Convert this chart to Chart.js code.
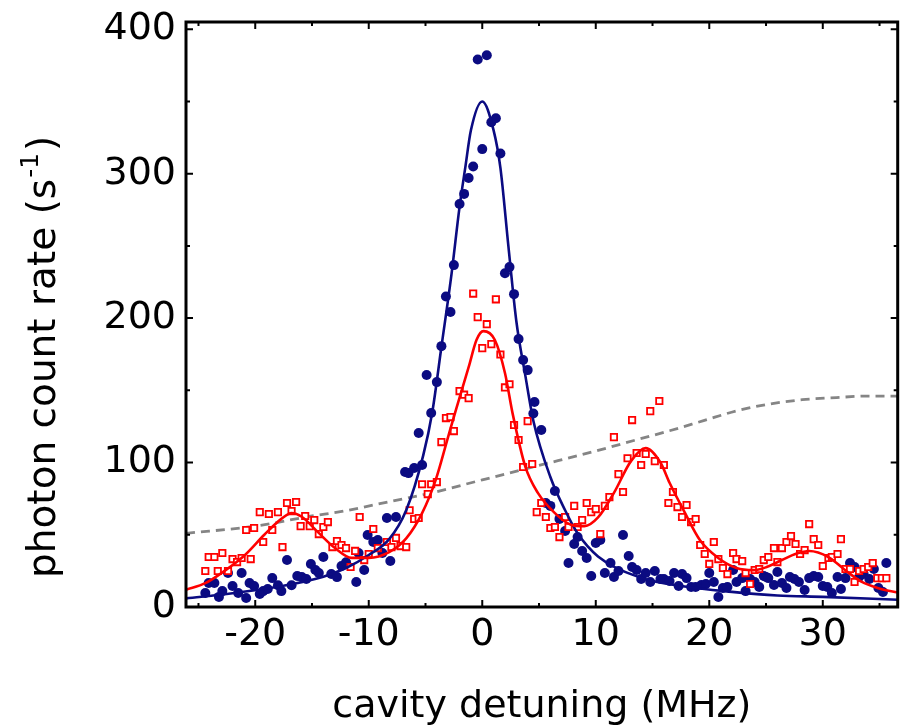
<!DOCTYPE html>
<html>
<head>
<meta charset="utf-8">
<script src="https://cdn.jsdelivr.net/npm/chart.js@4.4.1/dist/chart.umd.min.js"></script>
<style>
  html, body { margin: 0; padding: 0; background: #fff; overflow: hidden; }
  canvas { display: block; }
</style>
</head>
<body>
<canvas id="myChart" width="904" height="728"></canvas>
<script>
// blue dots: empty cavity transmission
const blueDetuning = [-24.4, -24.1, -23.6, -23.2, -22.9, -22.4, -22.0, -21.5, -21.2, -20.8, -20.5, -20.1, -19.6, -19.3, -18.9, -18.5, -18.0, -17.7, -17.2, -16.8, -16.3, -15.9, -15.5, -15.1, -14.7, -14.4, -14.0, -13.3, -12.8, -12.4, -12.0, -11.1, -10.9, -10.4, -10.1, -9.6, -9.2, -8.8, -8.4, -8.1, -7.6, -6.8, -6.5, -6.0, -5.3, -5.6, -4.9, -4.5, -4.0, -3.6, -3.2, -2.8, -2.5, -2.0, -1.6, -1.2, -0.8, -0.4, 0.0, 0.4, 0.8, 1.2, 1.6, 2.0, 2.4, 2.8, 3.2, 3.6, 4.0, 4.5, 4.6, 5.2, 5.6, 6.0, 6.4, 6.8, 7.3, 7.6, 8.1, 8.4, 8.8, 9.2, 9.6, 10.0, 10.4, 10.8, 11.3, 11.6, 12.0, 12.4, 12.9, 13.2, 13.6, 14.0, 14.4, 14.8, 15.2, 15.7, 16.0, 16.5, 16.9, 17.3, 17.6, 18.0, 18.4, 18.8, 19.3, 19.7, 20.0, 20.4, 20.8, 21.2, 21.6, 22.1, 22.4, 22.9, 23.2, 23.6, 24.0, 24.4, 24.8, 25.0, 25.2, 25.7, 26.0, 26.4, 26.8, 27.1, 27.5, 27.9, 28.4, 28.8, 29.2, 29.6, 30.0, 30.4, 30.8, 31.3, 31.6, 32.0, 32.4, 32.8, 33.2, 33.6, 34.1, 34.5, 34.9, 35.3, 35.6];
const blueRate = [9.7, 16.6, 16.6, 7, 11, 23.5, 14.5, 9.7, 23.5, 6.2, 16.6, 14.5, 9, 11, 12.5, 20, 15, 11, 32.5, 15, 21.5, 20.7, 19.4, 29.8, 25.6, 23.5, 34.6, 22.8, 20.7, 28.4, 31, 17.3, 37.4, 25.6, 49.8, 45, 46.4, 37.4, 61.6, 31.8, 62.3, 93.4, 92.7, 96.2, 98.3, 120.4, 160.6, 134.3, 155.7, 180.6, 215, 204.2, 236.7, 279, 286, 297, 305, 379, 317, 382, 335.6, 338.4, 314, 231, 235.3, 216.6, 185.5, 171, 164, 134, 141.9, 122.5, 72, 70, 80.3, 61, 52.6, 30.4, 43.6, 48.4, 38.8, 33.9, 21.5, 44.3, 46.4, 23.5, 30.4, 20.8, 24.9, 49.8, 35.3, 27.7, 25.6, 19.4, 23.5, 17.3, 24.9, 19.4, 19.4, 18, 23.5, 14.5, 22.8, 20, 13.8, 13.8, 15.2, 15.9, 23.5, 17.3, 6.9, 13.1, 13.8, 25.6, 17.3, 20, 11, 19.4, 17.3, 13.8, 21.5, 20.8, 20, 15.2, 24.2, 16.6, 13.1, 20.8, 19.4, 17.3, 11.8, 20, 21.5, 20.8, 14.5, 13.8, 9.7, 20.8, 12.5, 20, 30.4, 27.7, 20.8, 22.8, 19.4, 26.3, 13.1, 10.4, 30.4];

// red open squares: cavity with atoms
const redDetuning = [-24.4, -24.1, -23.6, -23.3, -22.9, -22.4, -22.0, -21.6, -21.2, -20.8, -20.4, -20.1, -19.6, -19.3, -18.8, -18.5, -18.0, -17.6, -17.2, -16.8, -16.4, -16.0, -15.6, -15.2, -14.8, -14.4, -14.0, -13.6, -13.2, -12.8, -12.4, -12.0, -11.6, -11.2, -10.8, -10.4, -10.0, -9.6, -9.2, -8.4, -8.0, -7.6, -7.2, -6.7, -6.4, -6.0, -5.6, -5.3, -4.8, -4.5, -4.0, -3.6, -3.2, -2.8, -2.5, -2.0, -1.6, -1.2, -0.8, -0.4, 0.0, 0.4, 0.8, 1.2, 1.6, 2.0, 2.4, 2.8, 3.2, 3.6, 4.0, 4.4, 4.8, 5.2, 5.6, 6.0, 6.4, 6.8, 7.3, 7.6, 8.1, 8.4, 8.8, 9.2, 9.6, 10.0, 10.4, 10.8, 11.2, 11.6, 12.0, 12.4, 12.8, 13.2, 13.6, 14.0, 14.4, 14.8, 15.2, 15.6, 16.0, 16.4, 16.8, 17.2, 17.6, 18.0, 18.4, 18.8, 19.2, 19.6, 20.0, 20.4, 20.8, 21.2, 21.6, 22.1, 22.4, 22.9, 23.2, 23.6, 24.0, 24.4, 24.8, 25.2, 25.7, 26.0, 26.4, 26.8, 27.2, 27.6, 28.0, 28.4, 28.8, 29.2, 29.6, 30.0, 30.5, 30.8, 31.3, 31.6, 32.0, 32.4, 32.8, 33.2, 33.6, 34.0, 34.4, 34.8, 35.2, 35.6];
const redRate = [24.9, 34.6, 34.6, 24.9, 37.4, 24.9, 33.2, 31.1, 33.9, 53.3, 33.2, 54.7, 65.7, 45, 64.4, 53.3, 65.7, 41.5, 72, 66.4, 72.7, 56, 63, 56, 60.2, 50.5, 55.4, 58.8, 41.5, 45.7, 42.9, 40.8, 27.7, 38.8, 62.3, 32.5, 36.7, 54, 40.8, 45, 41.5, 47.8, 42.2, 41.5, 67, 60.9, 61.6, 85, 78.2, 85, 86.5, 114.2, 130.8, 131.5, 121.8, 149.5, 147, 144.6, 217, 200.7, 179.2, 195.8, 182, 213, 174.8, 152, 154.2, 126, 115.6, 96.9, 128.7, 99, 65.7, 72, 62.3, 54.7, 55.4, 48.4, 62.3, 55.4, 70, 55.4, 60.2, 72, 65.7, 67.8, 50.5, 70, 76.1, 117.6, 92, 79.6, 103, 129.4, 106.6, 98.3, 105.9, 135.6, 101, 142.6, 98.3, 72, 79.6, 69.2, 62.3, 70.6, 58.8, 60.9, 42.9, 36.7, 29.8, 45, 33.2, 27, 22.8, 37.4, 33.2, 31.8, 23.5, 15.9, 25.6, 26.3, 32.5, 34.6, 40.8, 31.1, 40.8, 45, 49.1, 43.6, 36.7, 39.4, 57.4, 47, 42.9, 28.4, 33.9, 34.6, 36.7, 47, 26.3, 26.3, 17.3, 24.9, 26.3, 27.7, 30.4, 20, 20, 20];

// fitted curves at selected detunings
const blueFitX = [-26.1, -22, -18, -14, -12, -10, -8.2, -6.7, -5.2, -4.4, -3.6, -2.7, -2.0, -1.5, -1.0, 0, 1.0, 1.6, 2.3, 3.0, 3.8, 4.5, 6.0, 7.3, 8.4, 10.2, 13.7, 18, 22, 26, 30, 36.6];
const blueFitY = [6, 9.5, 14, 21, 27, 36, 47, 67, 105, 135, 180, 231, 277, 304, 330, 350, 330, 304, 250, 198, 160, 129, 90, 67, 51, 35, 21, 14, 10.5, 8, 7, 5];

const redFitX = [-26.1, -24.4, -22.7, -20.9, -19.2, -17.7, -16.8, -15.9, -14.5, -13, -11.5, -10, -8.2, -6.7, -5.3, -4.1, -3.0, -2.3, -1.2, -0.5, 0.1, 1.1, 2.0, 2.7, 3.8, 4.9, 6.4, 7.8, 9.0, 10.2, 11.6, 13.1, 14.4, 15.7, 16.5, 17.8, 19.2, 20.7, 22.4, 23.9, 25.0, 26.4, 27.7, 28.8, 30.5, 31.9, 33.4, 34.9, 36.6];
const redFitY = [12, 16.5, 25, 36, 50, 61, 65, 62.5, 52, 41, 34, 34, 38, 47.5, 65, 88, 118, 137, 166, 185, 191, 185, 162, 133, 97, 79, 65, 57, 56, 62, 79, 101, 110, 100, 86, 66, 46, 34.5, 27, 25.5, 27.5, 32.5, 37, 38.8, 34.6, 26, 17.5, 13, 10];

const greyX = [-26.1, -20, -15, -12.5, -7.5, -5, 0, 5, 10, 13.7, 16.5, 19.5, 22.5, 25.3, 28.2, 31.2, 33.8, 36.6];
const greyY = [51, 56, 63, 66, 74, 78, 88, 98, 108, 116, 122, 129, 136, 140.5, 143.5, 145, 146, 146];

// axis ticks
const xMajorTicks = [-20, -10, 0, 10, 20, 30];
const xMinorTicks = [-25, -15, -5, 5, 15, 25, 35];
const yMajorTicks = [0, 100, 200, 300, 400];
const yMinorTicks = [50, 150, 250, 350];

const pairs = (xs, ys) => xs.map((x, i) => ({ x: x, y: ys[i] }));

const FONT = "'DejaVu Sans', 'Liberation Sans', Arial, sans-serif";

// box frame with inward tick marks, plus the y title with a superscript
const framePlugin = {
    id: 'frame',
    afterDraw(chart) {
        const ctx = chart.ctx;
        const a = chart.chartArea;
        const xs = chart.scales.x, ys = chart.scales.y;
        ctx.save();
        ctx.strokeStyle = '#000';
        ctx.lineWidth = 2;
        ctx.beginPath();
        const tick = (vals, len) => {
            vals.forEach(v => {
                const px = xs.getPixelForValue(v);
                ctx.moveTo(px, a.bottom); ctx.lineTo(px, a.bottom - len);
                ctx.moveTo(px, a.top); ctx.lineTo(px, a.top + len);
            });
        };
        const ytick = (vals, len) => {
            vals.forEach(v => {
                const py = ys.getPixelForValue(v);
                ctx.moveTo(a.left, py); ctx.lineTo(a.left + len, py);
                ctx.moveTo(a.right, py); ctx.lineTo(a.right - len, py);
            });
        };
        tick(xMajorTicks, 7);
        tick(xMinorTicks, 4);
        ytick(yMajorTicks, 7);
        ytick(yMinorTicks, 4);
        ctx.stroke();
        ctx.lineWidth = 3;
        ctx.strokeRect(a.left, a.top, a.right - a.left, a.bottom - a.top);

        // y title
        ctx.fillStyle = '#000';
        ctx.translate(55, 578);
        ctx.rotate(-Math.PI / 2);
        ctx.textAlign = 'left';
        ctx.textBaseline = 'alphabetic';
        ctx.font = '39px ' + FONT;
        const main = 'photon count rate (s';
        ctx.fillText(main, 0, 0);
        let w = ctx.measureText(main).width;
        ctx.font = '25px ' + FONT;
        ctx.fillText('-1', w + 1, -17);
        w += ctx.measureText('-1').width + 3;
        ctx.font = '39px ' + FONT;
        ctx.fillText(')', w, 0);
        ctx.restore();
    }
};

const noEdgePadding = (scale) => {
    scale.paddingTop = 0;
    scale.paddingBottom = 0;
    scale.paddingLeft = 0;
    scale.paddingRight = 0;
};

new Chart(document.getElementById('myChart'), {
    type: 'scatter',
    data: {
        datasets: [{
            label: 'empty cavity fit',
            data: pairs(blueFitX, blueFitY),
            showLine: true,
            borderColor: '#0b0b82',
            borderWidth: 2.6,
            pointRadius: 0,
            cubicInterpolationMode: 'monotone',
            order: 1
        }, {
            label: 'atoms fit',
            data: pairs(redFitX, redFitY),
            showLine: true,
            borderColor: '#ff0000',
            borderWidth: 2.6,
            pointRadius: 0,
            cubicInterpolationMode: 'monotone',
            order: 0
        }, {
            label: 'reference',
            data: pairs(greyX, greyY),
            showLine: true,
            borderColor: '#858585',
            borderWidth: 2.8,
            borderDash: [9, 6],
            pointRadius: 0,
            cubicInterpolationMode: 'monotone',
            order: 4
        }, {
            label: 'empty cavity',
            data: pairs(blueDetuning, blueRate),
            pointStyle: 'circle',
            pointRadius: 5,
            backgroundColor: '#0b0b82',
            borderWidth: 0,
            order: 3
        }, {
            label: 'with atoms',
            data: pairs(redDetuning, redRate),
            pointStyle: 'rect',
            pointRadius: 4.5,
            backgroundColor: '#ffffff',
            borderColor: '#ff0000',
            borderWidth: 1.8,
            order: 2
        }]
    },
    options: {
        responsive: false,
        animation: false,
        events: [],
        layout: {
            padding: { top: 22, right: 2, left: 0, bottom: 0 }
        },
        plugins: {
            legend: { display: false },
            tooltip: { enabled: false }
        },
        scales: {
            x: {
                type: 'linear',
                min: -26.1,
                max: 36.6,
                grid: { display: false, drawTicks: false },
                border: { display: false },
                afterBuildTicks(scale) { scale.ticks = xMajorTicks.map(v => ({ value: v })); },
                ticks: {
                    padding: 5,
                    color: '#000',
                    font: { family: FONT, size: 38 },
                    maxRotation: 0,
                    autoSkip: false
                },
                title: {
                    display: true,
                    text: 'cavity detuning (MHz)',
                    color: '#000',
                    font: { family: FONT, size: 38, lineHeight: 1.0 },
                    padding: { top: 0, bottom: 2 }
                },
                afterFit(scale) { scale.height = 121; noEdgePadding(scale); }
            },
            y: {
                type: 'linear',
                min: 0,
                max: 405,
                grid: { display: false, drawTicks: false },
                border: { display: false },
                afterBuildTicks(scale) { scale.ticks = yMajorTicks.map(v => ({ value: v })); },
                ticks: {
                    padding: 10,
                    color: '#000',
                    font: { family: FONT, size: 38 },
                    autoSkip: false
                },
                afterFit(scale) { scale.width = 186; noEdgePadding(scale); }
            }
        }
    },
    plugins: [framePlugin]
});
</script>
</body>
</html>
